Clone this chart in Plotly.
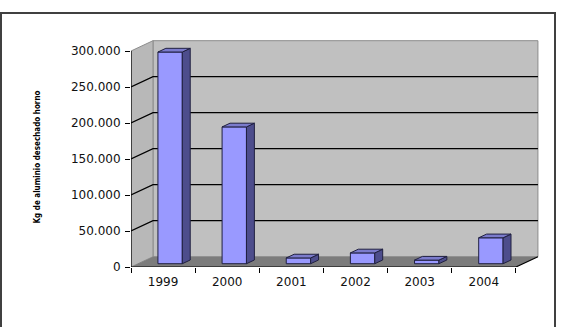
import plotly.graph_objects as go

years = ["1999", "2000", "2001", "2002", "2003", "2004"]
values = [294000, 190000, 8000, 15000, 5000, 36000]
y_ticks = [0, 50000, 100000, 150000, 200000, 250000, 300000]
y_title = "Kg de aluminio desechado horno"

# 3D geometry (axis units)
DX = 0.343      # depth offset in category units
DY = 14300      # depth offset in value units
D0, D1 = 0.32, 0.68   # bar front/back depth fractions
BW = 0.38       # bar width
YMAX = 300000
N = len(years)

fig = go.Figure()

shapes = []
# back wall
shapes.append(dict(type="path", layer="below", xref="x", yref="y",
                   path=f"M {DX},{DY} L {N+DX},{DY} L {N+DX},{YMAX+DY} L {DX},{YMAX+DY} Z",
                   fillcolor="#c0c0c0", line=dict(color="#8c8c8c", width=1)))
# left wall
shapes.append(dict(type="path", layer="below", xref="x", yref="y",
                   path=f"M 0,0 L {DX},{DY} L {DX},{YMAX+DY} L 0,{YMAX} Z",
                   fillcolor="#b8b8b8", line=dict(color="#8c8c8c", width=1)))
# floor
shapes.append(dict(type="path", layer="below", xref="x", yref="y",
                   path=f"M 0,0 L {N},0 L {N+DX},{DY} L {DX},{DY} Z",
                   fillcolor="#7c7c7c", line=dict(color="#7c7c7c", width=0)))
# gridlines
for v in y_ticks[1:-1]:
    shapes.append(dict(type="path", layer="below", xref="x", yref="y",
                       path=f"M 0,{v} L {DX},{v+DY} L {N+DX},{v+DY}",
                       line=dict(color="black", width=1.2)))
# front axis line and floor front edge
shapes.append(dict(type="path", layer="below", xref="x", yref="y",
                   path=f"M 0,{YMAX} L 0,0 L {N},0 L {N+DX},{DY}",
                   line=dict(color="black", width=1.2)))
# outer frame
shapes.append(dict(type="rect", xref="paper", yref="paper",
                   x0=-130/417, x1=424/417, y0=-0.3, y1=(267-13)/232,
                   line=dict(color="#404040", width=2), fillcolor="rgba(0,0,0,0)"))

# bar fronts
xc = [i + 0.5 + D0 * DX for i in range(N)]
fig.add_trace(go.Bar(x=xc, y=values, base=[D0 * DY] * N, width=BW,
                     marker=dict(color="#9999ff", line=dict(color="#202040", width=1)),
                     hoverinfo="skip", showlegend=False))

ddx = (D1 - D0) * DX
ddy = (D1 - D0) * DY
for i, v in enumerate(values):
    xl = xc[i] - BW / 2
    xr = xc[i] + BW / 2
    b = D0 * DY
    # side face
    fig.add_trace(go.Scatter(x=[xr, xr, xr + ddx, xr + ddx, xr],
                             y=[b, b + v, b + v + ddy, b + ddy, b],
                             fill="toself", fillcolor="#4d4d8c", mode="lines",
                             line=dict(color="#202040", width=1),
                             hoverinfo="skip", showlegend=False))
    # top face
    fig.add_trace(go.Scatter(x=[xl, xr, xr + ddx, xl + ddx, xl],
                             y=[b + v, b + v, b + v + ddy, b + v + ddy, b + v],
                             fill="toself", fillcolor="#7b7bcc", mode="lines",
                             line=dict(color="#202040", width=1),
                             hoverinfo="skip", showlegend=False))

fig.update_layout(
    width=561, height=327,
    margin=dict(l=131, r=13, t=35, b=60),
    paper_bgcolor="white", plot_bgcolor="white",
    separators=",.",
    shapes=shapes,
    font=dict(family="DejaVu Sans, Verdana, sans-serif", size=12, color="#111111"),
    xaxis=dict(range=[0, 6.5], showgrid=False, zeroline=False, showline=False,
               tickmode="array", tickvals=[i + 0.5 for i in range(N)], ticktext=years,
               ticks="", ticklabelstandoff=6,
               minor=dict(tickmode="array", tickvals=list(range(N + 1)), ticks="outside",
                          ticklen=5, tickcolor="black", tickwidth=1, showgrid=False)),
    yaxis=dict(range=[0, 322222], showgrid=False, zeroline=False, showline=False,
               tickmode="array", tickvals=y_ticks, tickformat=",.0f",
               ticks="outside", ticklen=5, tickcolor="black", tickwidth=1,
               ticklabelstandoff=2),
    annotations=[dict(text=f"<b>{y_title}</b>", textangle=-90, xref="paper", yref="paper",
                      x=(30 - 131) / 417, y=(267 - 157) / 232, showarrow=False,
                      font=dict(family="DejaVu Sans Condensed", size=8, color="black"))],
)

fig.write_html("out.html")
